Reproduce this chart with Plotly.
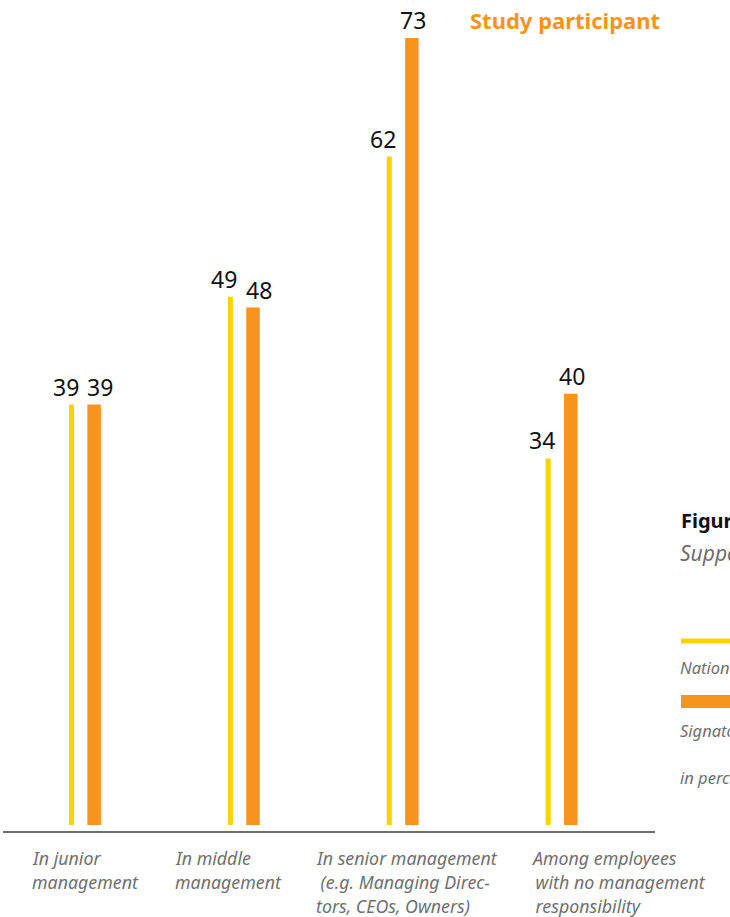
import plotly.graph_objects as go

categories = ["In junior<br>management", "In middle<br>management",
              "In senior management<br> (e.g. Managing Direc-<br>tors, CEOs, Owners)",
              "Among employees<br> with no management<br> responsibility"]
national = [39, 49, 62, 34]
study = [39, 48, 73, 40]
label_x_px = [30, 173, 314, 529]

W, H = 730, 917
L, R, T, B = 0, 0, 38, 92
px_per_unit = 158.9
center0 = 82.8
x0 = -center0 / px_per_unit
x1 = x0 + (W - L - R) / px_per_unit

YELLOW = "#FFD200"
ORANGE = "#F7941D"
GRAY = "#6f6f6f"
FONT = "Noto Sans"

idx = list(range(len(categories)))
off = 11.3 / px_per_unit

fig = go.Figure()
fig.add_trace(go.Bar(
    x=[i - off for i in idx], y=national, width=5 / px_per_unit,
    marker=dict(color=YELLOW, line=dict(width=0)),
    showlegend=False, name="National average", hoverinfo="skip"))
fig.add_trace(go.Bar(
    x=[i + off for i in idx], y=study, width=13.5 / px_per_unit,
    marker=dict(color=ORANGE, line=dict(width=0)),
    showlegend=False, name="Study participant", hoverinfo="skip"))

# value labels
for i, (a, b) in enumerate(zip(national, study)):
    close = abs(a - b) < 5
    fig.add_annotation(x=i - off, y=a, text=str(a), showarrow=False,
                       xanchor="center", yanchor="bottom", xshift=-6, yshift=0,
                       font=dict(size=23, color="#111", family=FONT))
    fig.add_annotation(x=i + off, y=b, text=str(b), showarrow=False,
                       xanchor="center", yanchor="bottom", xshift=6 if close else 1, yshift=0,
                       font=dict(size=23, color="#111", family=FONT))

fig.update_layout(
    width=W, height=H, margin=dict(l=L, r=R, t=T, b=B),
    paper_bgcolor="white", plot_bgcolor="white",
    barmode="overlay",
    font=dict(family=FONT),
    xaxis=dict(range=[x0, x1], visible=False, fixedrange=True),
    yaxis=dict(range=[0, 73], visible=False, fixedrange=True),
)

plot_h = H - T - B
def py(ypx):
    return (H - B - ypx) / plot_h

# baseline axis line
fig.add_shape(type="line", xref="paper", yref="paper",
              x0=3 / W, x1=655 / W, y0=py(832), y1=py(832),
              line=dict(color="#6e6e6e", width=2))

# category labels, one annotation per line
for lab, lx in zip(categories, label_x_px):
    for k, line in enumerate(lab.split("<br>")):
        txt = line.replace(" ", "&nbsp;", 1) if line.startswith(" ") else line
        fig.add_annotation(text="<i>" + txt + "</i>",
                           xref="paper", yref="paper",
                           x=lx / W, y=py(858 + 24 * k), xanchor="left", yanchor="middle",
                           align="left", showarrow=False,
                           font=dict(size=17.8, color=GRAY, family=FONT))

# series title
fig.add_annotation(text="<b>Study participant</b>", xref="paper", yref="paper",
                   x=468 / W, y=py(20), xanchor="left", yanchor="middle",
                   showarrow=False, font=dict(size=22, color=ORANGE, family=FONT))

# clipped legend block at right
fig.add_annotation(text="<b>Figure 5</b>", xref="paper", yref="paper",
                   x=679 / W, y=py(520), xanchor="left", yanchor="middle",
                   showarrow=False, font=dict(size=20, color="#111", family=FONT))
fig.add_annotation(text="<i>Support</i>", xref="paper", yref="paper",
                   x=678 / W, y=py(553), xanchor="left", yanchor="middle",
                   showarrow=False, font=dict(size=21, color=GRAY, family=FONT))
fig.add_shape(type="line", xref="paper", yref="paper",
              x0=681 / W, x1=760 / W, y0=py(641), y1=py(641),
              line=dict(color=YELLOW, width=5))
fig.add_annotation(text="<i>National average</i>", xref="paper", yref="paper",
                   x=678 / W, y=py(667), xanchor="left", yanchor="middle",
                   showarrow=False, font=dict(size=16.5, color=GRAY, family=FONT))
fig.add_shape(type="rect", xref="paper", yref="paper",
              x0=681 / W, x1=760 / W, y0=py(708), y1=py(695),
              fillcolor=ORANGE, line=dict(width=0))
fig.add_annotation(text="<i>Signatories</i>", xref="paper", yref="paper",
                   x=678 / W, y=py(730), xanchor="left", yanchor="middle",
                   showarrow=False, font=dict(size=16.5, color=GRAY, family=FONT))
fig.add_annotation(text="<i>in percent</i>", xref="paper", yref="paper",
                   x=678 / W, y=py(777), xanchor="left", yanchor="middle",
                   showarrow=False, font=dict(size=16.5, color=GRAY, family=FONT))

fig.write_html("out.html", config={"displayModeBar": False},
               post_script="document.body.style.margin='0';document.body.style.overflow='hidden';")
